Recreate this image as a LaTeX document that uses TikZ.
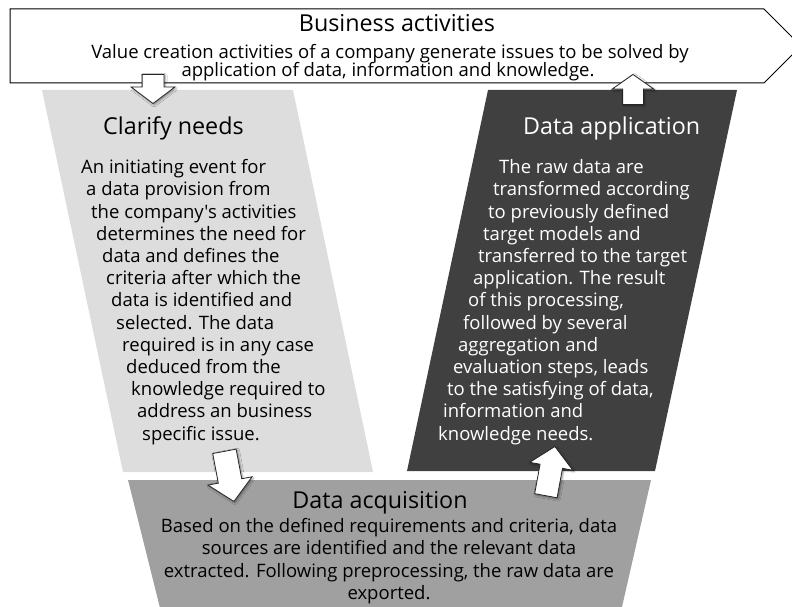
\documentclass[tikz,border=0pt]{standalone}
\usepackage{fontspec}
\setmainfont{Open Sans}[Ligatures=TeXOff]
\usetikzlibrary{shapes.arrows}
\usetikzlibrary{shadows.blur}

\definecolor{needsgray}{RGB}{221,221,221}
\definecolor{applgray}{RGB}{64,64,64}
\definecolor{acqgray}{RGB}{160,160,160}

\tikzset{
  blockarrow/.style={single arrow, draw=black!85, fill=white, line width=0.8pt,
    inner xsep=0pt, single arrow head extend=10.5pt,
    blur shadow={shadow xshift=1.2pt, shadow yshift=-1.2pt, shadow blur steps=4, shadow opacity=45}},
  phasetitle/.style={font=\fontsize{23.3}{27}\selectfont, inner sep=0pt},
  phasetext/.style={font=\fontsize{18.5}{22.2}\selectfont, align=left, inner sep=0pt, anchor=base west},
}

\begin{document}
\begin{tikzpicture}[x=1pt,y=-1pt]

\useasboundingbox (0,0) rectangle (792,607);
\clip (0,0) rectangle (792,607);

%% business banner
\draw[line width=1pt, fill=white] (10,9) -- (764,9) -- (801,46) -- (764,83) -- (10,83) -- cycle;

%% phases
\fill[needsgray] (42,90) -- (293,90) -- (373,472) -- (123,472) -- cycle;
\fill[applgray] (488,90) -- (737,90) -- (655,471) -- (407,471) -- cycle;
\fill[acqgray] (128,480) -- (651,480) -- (619,620) -- (163,620) -- cycle;

% labels (base = last line)
\node[phasetitle, anchor=base] (bustitle) at (397,31.7) {Business activities};
\node[phasetext, anchor=base] (bustexta) at (390,58.3)
  {Value creation activities of a company generate issues to be solved by};
\node[phasetext, anchor=base] (bustextb) at (388,76.7)
  {application of data, information and knowledge.};

\node[phasetitle, anchor=base west] (needstitle) at (103,135) {Clarify needs};
\node[phasetext] (needstext) at (81,440)
  {An initiating event for\\
   \hspace*{5pt}a data provision from\\
   \hspace*{10pt}the company's activities\\
   \hspace*{15pt}determines the need for\\
   \hspace*{21pt}data and defines the\\
   \hspace*{25pt}criteria after which the\\
   \hspace*{30pt}data is identified and\\
   \hspace*{35pt}selected. The data\\
   \hspace*{41pt}required is in any case\\
   \hspace*{45pt}deduced from the\\
   \hspace*{50pt}knowledge required to\\
   \hspace*{56pt}address an business\\
   \hspace*{61pt}specific issue.};

\node[phasetitle, anchor=base west, text=white] (appltitle) at (523,135) {Data application};
\node[phasetext, text=white] (appltext) at (438,440)
  {\hspace*{61pt}The raw data are\\
   \hspace*{55pt}transformed according\\
   \hspace*{50pt}to previously defined\\
   \hspace*{45pt}target models and\\
   \hspace*{40pt}transferred to the target\\
   \hspace*{35pt}application. The result\\
   \hspace*{30pt}of this processing,\\
   \hspace*{25pt}followed by several\\
   \hspace*{20pt}aggregation and\\
   \hspace*{15pt}evaluation steps, leads\\
   \hspace*{9pt}to the satisfying of data,\\
   \hspace*{5pt}information and\\
   knowledge needs.};

\node[phasetitle, anchor=base] (acqtitle) at (380,508.3) {Data acquisition};
\node[font=\fontsize{18.5}{22.2}\selectfont, align=center, inner sep=0pt, anchor=base] (acqtext) at (389,599.3)
  {Based on the defined requirements and criteria, data\\
   sources are identified and the relevant data\\
   extracted. Following preprocessing, the raw data are\\
   exported.};

%% block arrows
\node[blockarrow, rotate=-90, minimum height=29pt, inner ysep=10.5pt, single arrow head extend=11pt,
  single arrow tip angle=106, anchor=tip] (needsin) at (153,104) {};
\node[blockarrow, rotate=90, minimum height=30pt, inner ysep=10pt,
  single arrow tip angle=110, anchor=tip] (applout) at (633,74) {};
\node[blockarrow, rotate=-79.3, minimum height=51pt, inner ysep=11.5pt,
  single arrow tip angle=94, anchor=tip] (needsout) at (234,502) {};
\node[blockarrow, rotate=79.6, minimum height=50pt, inner ysep=11pt,
  single arrow tip angle=95, anchor=tip] (acqout) at (555,446) {};
\end{tikzpicture}
\end{document}
